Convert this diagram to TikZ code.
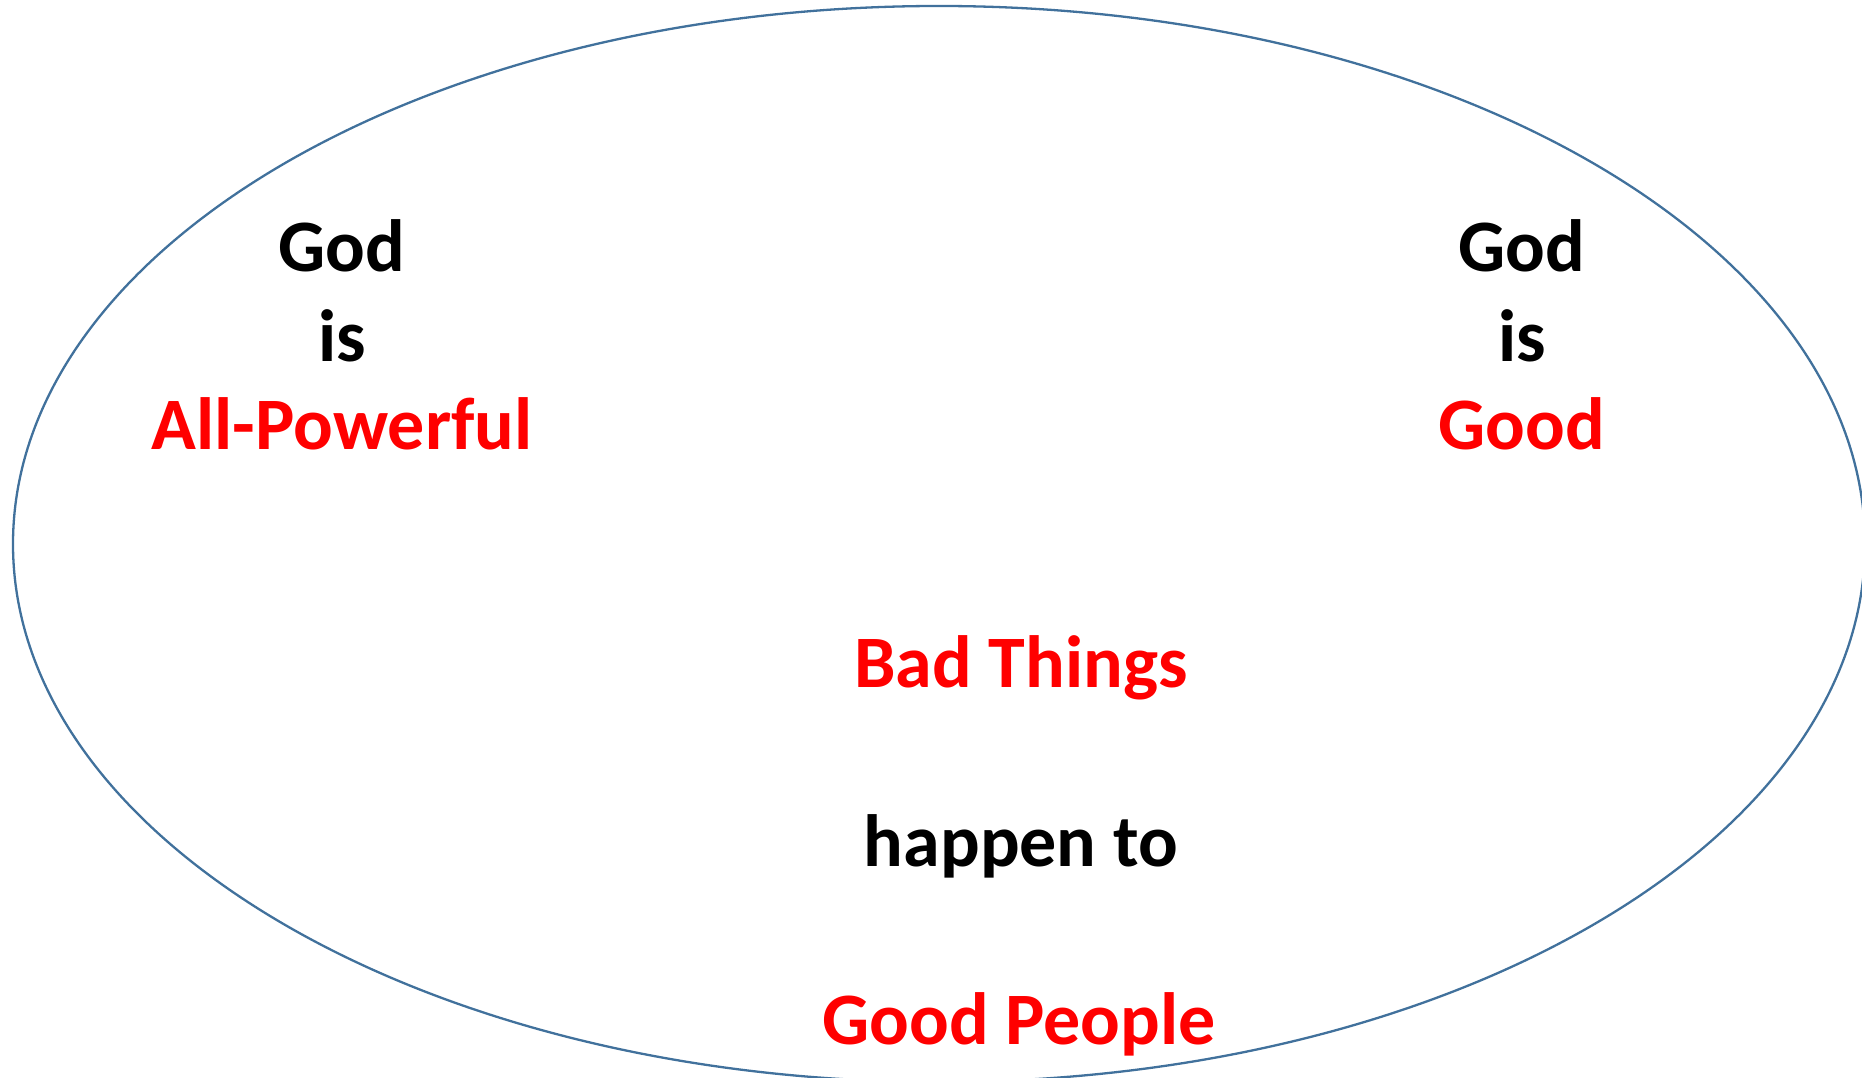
\documentclass[tikz,border=0pt]{standalone}
\usepackage{fontspec}
\setmainfont{Carlito}
\definecolor{edgeblue}{HTML}{41719C}
\definecolor{txtred}{HTML}{FF0000}
\tikzset{
  lbl/.style={inner sep=0pt, anchor=base, font=\bfseries\fontsize{74}{89}\selectfont},
  redlbl/.style={lbl, text=txtred},
  blacklbl/.style={lbl, text=black}
}
\begin{document}
\begin{tikzpicture}[x=1pt,y=1pt]
\useasboundingbox (0,0) rectangle (1862,1078);
\clip (0,0) rectangle (1862,1078);
\draw[edgeblue, line width=2.3pt] (939,534) ellipse [x radius=926, y radius=538];
\node[blacklbl] (g1) at (342,806) {God};
\node[blacklbl] (i1) at (342,716) {is};
\node[redlbl] (p1) at (342,628) {All-Powerful};
\node[blacklbl] (g2) at (1522,806) {God};
\node[blacklbl] (i2) at (1522,716) {is};
\node[redlbl] (p2) at (1522,628) {Good};
\node[redlbl] (b) at (1021,390) {Bad Things};
\node[blacklbl] (h) at (1021,211) {happen to};
\node[redlbl] (gp) at (1019,33) {Good People};
\end{tikzpicture}
\end{document}
